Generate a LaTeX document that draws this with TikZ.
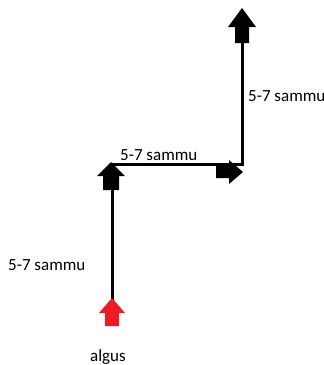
\documentclass[tikz,border=0pt]{standalone}
\usepackage{fontspec}
\setmainfont{Carlito}
\begin{document}
\begin{tikzpicture}[x=1pt,y=-1pt,
  lbl/.style={font=\fontsize{17}{20}\selectfont, inner sep=0pt},
  path/.style={line width=3pt}]
\useasboundingbox (0,0) rectangle (324,365);
\coordinate (start) at (112,300);
\coordinate (c1) at (112,164);
\coordinate (c2) at (242,164);
\coordinate (c3) at (242,30);
% connector lines
\draw[path] (start) -- (c1) -- (c2) -- (c3);
% red start arrow
\fill[fill={rgb,255:red,237;green,28;blue,36}] (112,298) -- (125,313) -- (119,313) -- (119,326) -- (105,326) -- (105,313) -- (99,313) -- cycle;
% black up arrow on left
\fill (111,162) -- (125,176) -- (119,176) -- (119,190) -- (103,190) -- (103,176) -- (97,176) -- cycle;
% right arrow
\fill (243,172) -- (229,160) -- (229,166) -- (216,166) -- (216,178) -- (229,178) -- (229,184) -- cycle;
% top arrow
\fill (242,8) -- (256,27) -- (249,27) -- (249,43) -- (235,43) -- (235,27) -- (228,27) -- cycle;
% labels
\node[lbl, anchor=west] (l1) at (248,96) {5-7 sammu};
\node[lbl, anchor=west] (l2) at (120,155) {5-7 sammu};
\node[lbl, anchor=west] (l3) at (8,265) {5-7 sammu};
\node[lbl] (l4) at (108,357) {algus};
\end{tikzpicture}
\end{document}
